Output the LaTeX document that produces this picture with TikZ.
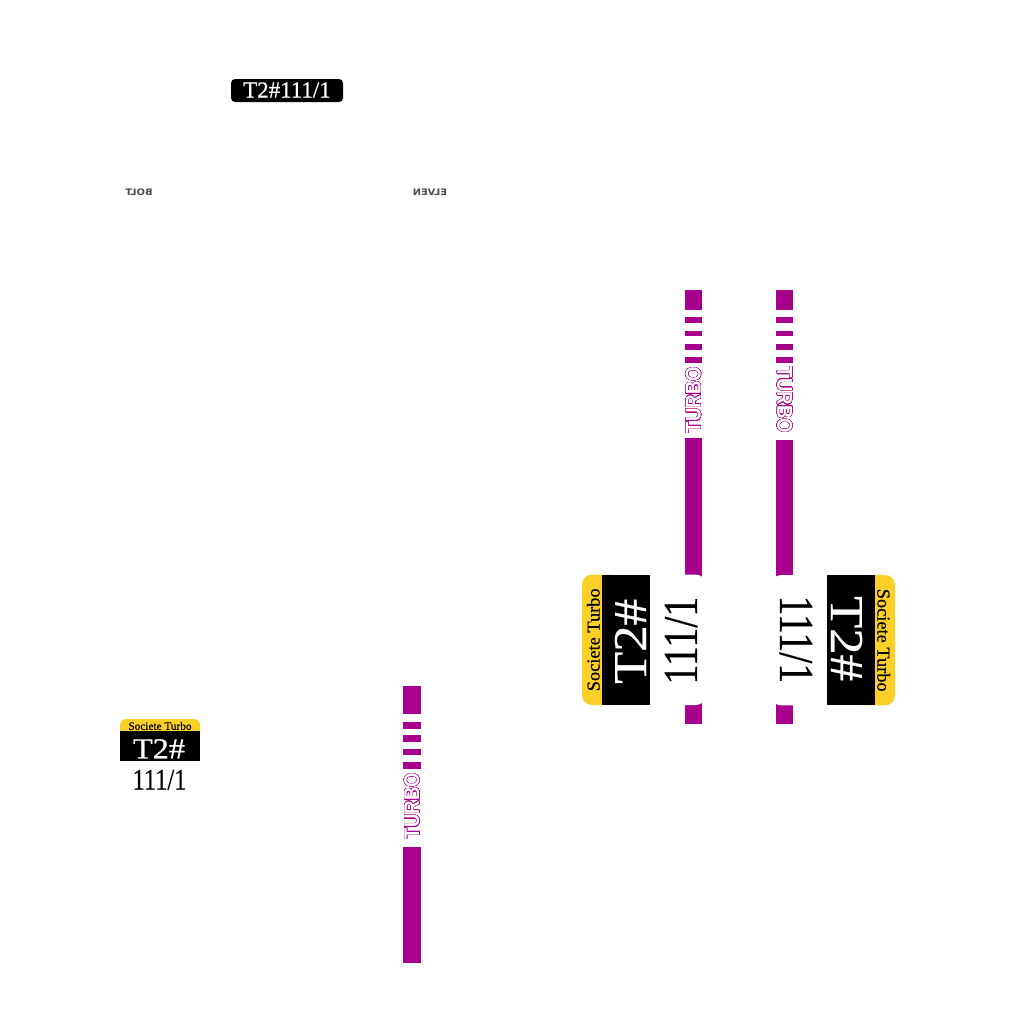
\documentclass[tikz,border=0pt]{standalone}
\usepackage{fontspec}
\usepackage{contour}
\newfontfamily\lsans{DejaVu Sans}
\newfontfamily\lserif{Liberation Serif}[FakeBold=0.6]
\definecolor{barcol}{RGB}{168,0,140}
\definecolor{tagyel}{RGB}{253,208,40}
\definecolor{boltgray}{RGB}{75,75,75}
\contourlength{0.4pt}
\contournumber{32}
\begin{document}
\begin{tikzpicture}[x=1bp,y=-1bp,
  bar/.style={fill=barcol},
  turbo/.style={inner sep=0pt, font=\fontspec{Liberation Sans}\bfseries\fontsize{21.5}{21.5}\selectfont},
  mirror/.style={inner sep=0pt, text=boltgray, font=\lsans\bfseries\fontsize{9}{9}\selectfont, xscale=-1.1},
  pics/tag/.style={code={
    \fill[white, rounded corners=#1] (0,0) rectangle (80,76);
    \fill[tagyel, rounded corners=#1] (0,0) rectangle (80,24);
    \fill[black] (0,12) rectangle (80,42);
    \node[anchor=base, inner sep=0pt, font=\lserif\fontsize{11.3}{11.3}\selectfont] (soc) at (40,10.8) {Societe Turbo};
    \node[anchor=base, inner sep=0pt, text=white, font=\lserif\fontsize{29}{29}\selectfont] (id) at (39,39.3) {\scalebox{1.12}[1]{T2\#}};
    \node[anchor=base, inner sep=0pt, font=\lserif\fontsize{24.5}{25}\selectfont] (num) at (39.5,70.5) {\scalebox{1}[1.22]{111/1}};
  }}]
\fill[white] (0,0) rectangle (1024,1024);
\useasboundingbox (0,0) rectangle (1024,1024);

% top label
\fill[black, rounded corners=4] (231,79) rectangle (343,102);
\node[anchor=base, text=white, font=\lserif\fontsize{23}{23}\selectfont, inner sep=0pt] (toplabel) at (287,97.5) {T2\#111/1};

% mirrored texts
\node[mirror] (bolt) at (139,192) {BOLT};
\node[mirror] (elven) at (430,192) {ELVEN};

% lower bar
\fill[bar] (403,686) rectangle (421,714);
\foreach \yy in {722,735.3,748.6,762} \fill[bar] (403,\yy) rectangle (421,\yy+6.5);
\node[turbo, rotate=90] (turboA) at (412,806) {\scalebox{0.87}[1]{\color{white}\contour{barcol}{TURBO}}};
\fill[bar] (403,847) rectangle (421,963);

% bar 1
\fill[bar] (685,290) rectangle (702,310);
\foreach \yy in {317,330.5,344,357} \fill[bar] (685,\yy) rectangle (702,\yy+5.5);
\node[turbo, rotate=90] (turboB) at (693.5,400) {\scalebox{0.87}[1]{\color{white}\contour{barcol}{TURBO}}};
\fill[bar] (685,438) rectangle (702,724);

% bar 2
\fill[bar] (776,290) rectangle (793,310);
\foreach \yy in {317,330.5,344,357} \fill[bar] (776,\yy) rectangle (793,\yy+5.5);
\node[turbo, rotate=-90] (turboC) at (784.5,400) {\scalebox{0.87}[1]{\color{white}\contour{barcol}{TURBO}}};
\fill[bar] (776,440) rectangle (793,724);

% tags
\pic (tagS) at (120,719) {tag=6};
\pic (tagL) [rotate=90, scale=1.63, transform shape] at (582,705) {tag=10};
\pic (tagR) [rotate=-90, scale=1.63, transform shape] at (895,575) {tag=10};
\end{tikzpicture}
\end{document}
